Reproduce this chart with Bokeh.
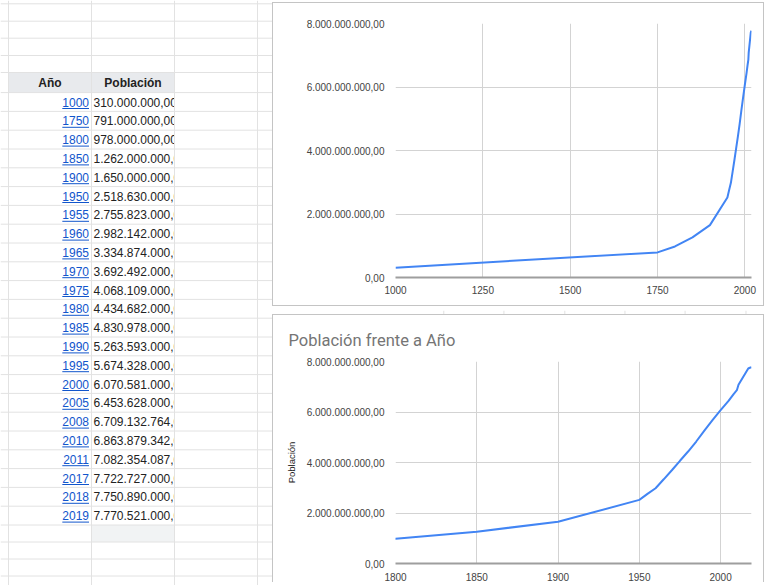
from bokeh.plotting import figure
from bokeh.layouts import row, column
from bokeh.models import Range1d, FixedTicker, CustomJSTickFormatter, Spacer
from bokeh.core.properties import value
from bokeh.embed import file_html
from bokeh.resources import INLINE

# ---------------- data ----------------
years = [1000, 1750, 1800, 1850, 1900, 1950, 1955, 1960, 1965, 1970, 1975,
         1980, 1985, 1990, 1995, 2000, 2005, 2008, 2010, 2011, 2017, 2018, 2019]
population = [310000000, 791000000, 978000000, 1262000000, 1650000000,
              2518630000, 2755823000, 2982142000, 3334874000, 3692492000,
              4068109000, 4434682000, 4830978000, 5263593000, 5674328000,
              6070581000, 6453628000, 6709132764, 6863879342, 7082354087,
              7722727000, 7750890000, 7770521000]
header_labels = ["Año", "Población"]
chart_title = "Población frente a Año"
y_axis_title = "Población"
x_ticks_top = [1000, 1250, 1500, 1750, 2000]
x_ticks_bottom = [1800, 1850, 1900, 1950, 2000]
y_ticks = [0, 2000000000, 4000000000, 6000000000, 8000000000]

FONT = "Liberation Sans"
GRID = "#e2e2e2"


def es_fmt(v):
    s = f"{v:,.2f}"
    return s.replace(",", "X").replace(".", ",").replace("X", ".")


# ---------------- spreadsheet (left) ----------------
sheet = figure(width=272, height=585, x_range=Range1d(0, 272), y_range=Range1d(585, 0),
               output_backend="svg", toolbar_location=None, min_border=0)
sheet.axis.visible = False
sheet.grid.visible = False
sheet.outline_line_color = None
sheet.background_fill_color = "white"
sheet.border_fill_color = "white"

row_h = 18.8
first_c = 101.5
n = len(years)
row_centers = [first_c + i * row_h for i in range(n)]

# header background + selected empty cell
sheet.quad(left=[8], right=[174], top=[72], bottom=[first_c - row_h / 2], fill_color="#e8eaed",
           line_color=None)
last_bottom = first_c + (n - 0.5) * row_h
sheet.quad(left=[91], right=[174], top=[last_bottom], bottom=[last_bottom + 17],
           fill_color="#f1f3f4", line_color=None)

# header text
sheet.text(x=[49.5, 132.5], y=[82, 82], text=header_labels, text_align="center",
           text_baseline="middle", text_font=value(FONT), text_font_size="12px",
           text_font_style="bold", text_color="#222222")

# years (links) right aligned
year_txt = [str(y) for y in years]
sheet.text(x=[88.5] * n, y=row_centers, text=year_txt, text_align="right",
           text_baseline="middle", text_font=value(FONT), text_font_size="12px",
           text_color="#1155cc")
uw = [len(t) * 6.67 for t in year_txt]
sheet.segment(x0=[88.5 - w for w in uw], x1=[88.5] * n, y0=[c + 6.5 for c in row_centers],
              y1=[c + 6.5 for c in row_centers], line_color="#1155cc", line_width=1)

# population, clipped at column edge
pop_txt = [es_fmt(v) for v in population]
sheet.text(x=[93] * n, y=row_centers, text=pop_txt, text_align="left",
           text_baseline="middle", text_font=value(FONT), text_font_size="12px",
           text_color="#222222")
sheet.quad(left=[174.5], right=[272], top=[0], bottom=[585], fill_color="white", line_color=None)

# grid lines
hlines = [3.3, 20.7, 37.7, 55, 72] + [first_c - row_h / 2 + k * row_h for k in range(n + 1)]
hlines += [last_bottom + 17, last_bottom + 34, last_bottom + 51]
sheet.segment(x0=[0] * len(hlines), x1=[272] * len(hlines), y0=hlines, y1=hlines,
              line_color=GRID, line_width=1)
vlines = [8, 91, 174, 257]
sheet.segment(x0=vlines, x1=vlines, y0=[0] * 4, y1=[585] * 4, line_color=GRID, line_width=1)

# ---------------- charts ----------------
yfmt = CustomJSTickFormatter(code="""
const s = Math.round(tick).toString();
return s.replace(/\\B(?=(\\d{3})+(?!\\d))/g, '.') + ',00';
""")


def style_chart(p, xt):
    p.line(years, population, line_color="#4285f4", line_width=2)
    p.xaxis.ticker = FixedTicker(ticks=xt)
    p.yaxis.ticker = FixedTicker(ticks=y_ticks)
    p.yaxis.formatter = yfmt
    p.axis.major_tick_line_color = None
    p.axis.minor_tick_line_color = None
    p.yaxis.axis_line_color = None
    p.xaxis.axis_line_color = "#9e9e9e"
    p.xaxis.axis_line_width = 2
    p.axis.major_label_text_font = FONT
    p.axis.major_label_text_font_size = "10px"
    p.axis.major_label_text_color = "#444444"
    p.yaxis.major_label_standoff = 5
    p.xaxis.major_label_standoff = 3
    p.grid.grid_line_color = "#d3d3d3"
    p.outline_line_color = None
    p.background_fill_color = "white"
    p.border_fill_color = "white"


chart1 = figure(width=492, height=304, x_range=Range1d(1000, 2019), y_range=Range1d(0, 8e9),
                output_backend="svg", toolbar_location=None,
                min_border_left=96, min_border_right=14, min_border_top=20, min_border_bottom=30,
                styles={"border": "1px solid #c4c4c4"})
style_chart(chart1, x_ticks_top)
chart1.xaxis.major_label_standoff = 2

gap = figure(width=494, height=8, x_range=Range1d(272, 766), y_range=Range1d(0, 1),
             output_backend="svg", toolbar_location=None, min_border=0)
gap.axis.visible = False
gap.grid.visible = False
gap.outline_line_color = None
gcols = [340, 423, 507, 590, 673, 757]
gap.segment(x0=gcols, x1=gcols, y0=[0] * 6, y1=[1] * 6, line_color=GRID)

chart2 = figure(width=492, height=268, x_range=Range1d(1800, 2019), y_range=Range1d(0, 8e9),
                output_backend="svg", toolbar_location=None, title=chart_title,
                min_border_left=122, min_border_right=14, min_border_top=46, min_border_bottom=18,
                styles={"border": "1px solid #c4c4c4", "border-bottom": "none"})
style_chart(chart2, x_ticks_bottom)
chart2.title.text_font = "Roboto"
chart2.title.text_font_size = "16.5px"
chart2.title.text_font_style = "normal"
chart2.title.text_color = "#757575"
chart2.title.align = "left"
chart2.title.offset = -107
chart2.title.standoff = 23
chart2.yaxis.axis_label = y_axis_title
chart2.yaxis.axis_label_text_font = FONT
chart2.yaxis.axis_label_text_font_size = "9.5px"
chart2.yaxis.axis_label_text_font_style = "normal"
chart2.yaxis.axis_label_text_color = "#222222"
chart2.yaxis.axis_label_standoff = 7

layout = row(sheet, column(Spacer(width=494, height=2), chart1, gap, chart2))

open("out.html", "w").write(file_html(layout, INLINE))
